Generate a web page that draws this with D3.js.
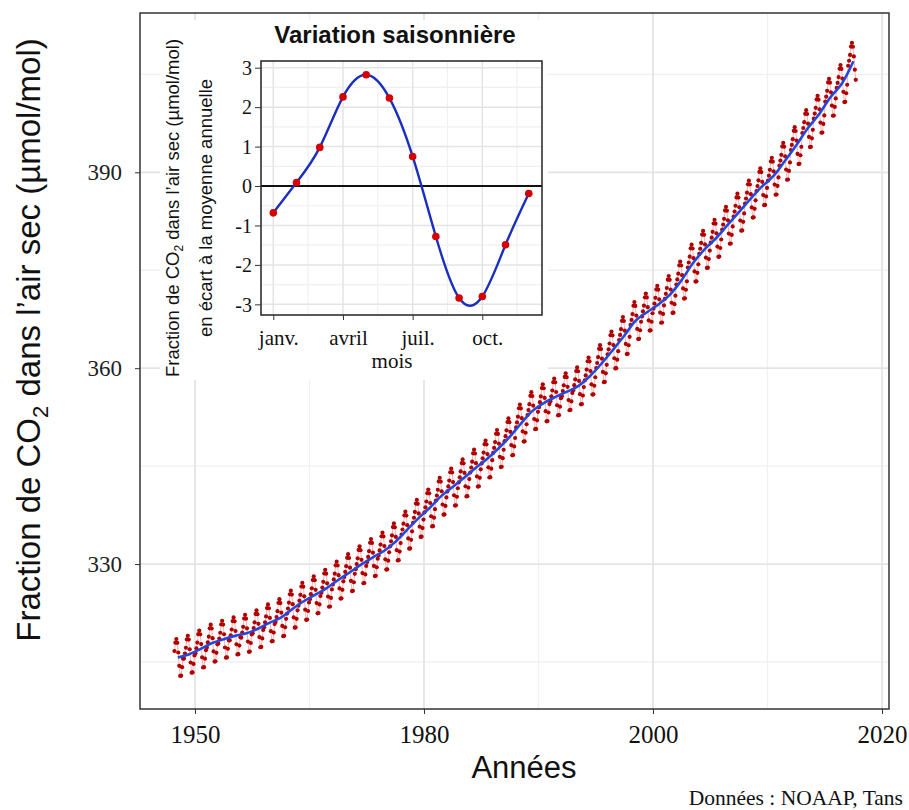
<!DOCTYPE html>
<html><head><meta charset="utf-8">
<script src="https://cdn.jsdelivr.net/npm/d3@7"></script>
<style>body{margin:0;background:#fff;} svg{display:block}</style>
</head><body>
<svg id="c" width="909" height="810"></svg>
<script>
// ---- Data ----
// Smoothed (trend) CO2 value per year, centred on mid-year
const trendYears = [1958,1959,1960,1961,1962,1963,1964,1965,1966,1967,
  1968,1969,1970,1971,1972,1973,1974,1975,1976,1977,
  1978,1979,1980,1981,1982,1983,1984,1985,1986,1987,
  1988,1989,1990,1991,1992,1993,1994,1995,1996,1997,
  1998,1999,2000,2001,2002,2003,2004,2005,2006,2007,
  2008,2009,2010,2011,2012,2013,2014,2015,2016,2017];
const trendValues = [315.7,316.2,317.0,317.9,318.5,319.0,319.4,320.1,321.0,321.8,
  323.1,324.3,325.3,326.3,327.55,328.7,329.9,331.0,332.0,333.4,
  335.2,337.0,338.6,340.4,341.8,343.2,344.7,346.1,347.7,349.5,
  351.6,353.5,354.7,355.6,356.4,357.3,358.8,360.7,362.8,365.0,
  367.3,368.6,369.8,371.3,373.5,376.1,378.2,379.9,381.9,383.9,
  385.9,387.8,389.4,391.7,394.1,396.7,398.9,401.5,403.6,407.0];
// Seasonal deviation from annual mean (inset), months 1..12
const seasonalMonths = [1,2,3,4,5,6,7,8,9,10,11,12];
const seasonalValues = [-0.68,0.09,0.98,2.26,2.82,2.23,0.75,-1.28,-2.84,-2.80,-1.49,-0.19];
// first and last monthly observation
const firstObs = {year:1958, month:3};
const lastObs = {year:2017, month:9};
// ticks
const xTickYears = [1960,1980,2000,2020];
const xTickLabels = ["1950","1980","2000","2020"];
const yTickValues = [330,360,390];
const insetYTicks = [-3,-2,-1,0,1,2,3];
const insetXTickMonths = [1,4,7,10];
const insetXTickLabels = ["janv.","avril","juil.","oct."];

// monthly points: each year's level + that month's seasonal offset
const monthly = [];
trendYears.forEach((yr,i)=>{
  seasonalMonths.forEach((m,j)=>{
    const k = yr*12+m, k0 = firstObs.year*12+firstObs.month, k1 = lastObs.year*12+lastObs.month;
    if(k<k0||k>k1) return;
    monthly.push({t: yr+(m-0.5)/12, v: trendValues[i]+seasonalValues[j]});
  });
});
const trend = trendYears.map((yr,i)=>({t:yr+0.5, v:trendValues[i]}));

const SERIF = "'Liberation Serif','Times New Roman',serif";
const SANS = "'Liberation Sans',Arial,sans-serif";
const svg = d3.select("#c");

// ---- main panel ----
const L=140,R=889,T=13,B=709;
const x = d3.scaleLinear().domain([1955.2,2020.61]).range([L,R]);
const y = d3.scaleLinear().domain([307.8,414.4]).range([B,T]);

const xMinor = d3.pairs(xTickYears).map(p=>(p[0]+p[1])/2);
const yMinor = [yTickValues[0]-15].concat(yTickValues.map(v=>v+15));
const g = svg.append("g");
g.selectAll(".xmin").data(xMinor).join("line")
 .attr("x1",d=>x(d)).attr("x2",d=>x(d)).attr("y1",T).attr("y2",B)
 .attr("stroke","#f0f0f0").attr("stroke-width",1.3);
g.selectAll(".ymin").data(yMinor).join("line")
 .attr("x1",L).attr("x2",R).attr("y1",d=>y(d)).attr("y2",d=>y(d))
 .attr("stroke","#f0f0f0").attr("stroke-width",1.3);
g.selectAll(".xmaj").data(xTickYears).join("line")
 .attr("x1",d=>x(d)).attr("x2",d=>x(d)).attr("y1",T).attr("y2",B)
 .attr("stroke","#e4e4e4").attr("stroke-width",1.8);
g.selectAll(".ymaj").data(yTickValues).join("line")
 .attr("x1",L).attr("x2",R).attr("y1",d=>y(d)).attr("y2",d=>y(d))
 .attr("stroke","#e4e4e4").attr("stroke-width",1.8);

// monthly connecting line + dots
g.append("path").datum(monthly)
 .attr("d",d3.line().x(d=>x(d.t)).y(d=>y(d.v)))
 .attr("fill","none").attr("stroke","#f5a8a8").attr("stroke-width",0.9);
g.selectAll(".pt").data(monthly).join("circle")
 .attr("cx",d=>x(d.t)).attr("cy",d=>y(d.v)).attr("r",2.1).attr("fill","#b00000");
// trend
g.append("path").datum(trend)
 .attr("d",d3.line().x(d=>x(d.t)).y(d=>y(d.v)).curve(d3.curveCatmullRom))
 .attr("fill","none").attr("stroke","#2448dc").attr("stroke-width",2.6);

// frame
svg.append("rect").attr("x",L).attr("y",T).attr("width",R-L).attr("height",B-T)
 .attr("fill","none").attr("stroke","#333").attr("stroke-width",1.5);

// axes
const xa = svg.append("g").attr("transform",`translate(0,${B})`)
 .call(d3.axisBottom(x).tickValues(xTickYears).tickFormat((d,i)=>xTickLabels[i]).tickSize(5));
xa.select(".domain").remove();
xa.selectAll("line").attr("stroke","#333");
xa.selectAll("text").attr("font-family",SERIF).attr("font-size",25).attr("fill","#111")
 .attr("y",34).attr("dy",0);
const ya = svg.append("g").attr("transform",`translate(${L},0)`)
 .call(d3.axisLeft(y).tickValues(yTickValues).tickSize(5));
ya.select(".domain").remove();
ya.selectAll("line").attr("stroke","#333");
ya.selectAll("text").attr("font-family",SERIF).attr("font-size",23).attr("fill","#222")
 .attr("x",-18).attr("dy","0.33em");

// axis titles
svg.append("text").attr("x",524).attr("y",778).attr("text-anchor","middle")
 .attr("font-family",SANS).attr("font-size",31).attr("fill","#111").text("Années");
const yt = svg.append("text").attr("transform","translate(40,340) rotate(-90)")
 .attr("text-anchor","middle").attr("font-family",SANS).attr("font-size",33).attr("fill","#111");
yt.append("tspan").text("Fraction de CO");
yt.append("tspan").attr("font-size",22).attr("dy",8).text("2");
yt.append("tspan").attr("dy",-8).text(" dans l’air sec (µmol/mol)");

svg.append("text").attr("x",903).attr("y",805).attr("text-anchor","end")
 .attr("font-family",SERIF).attr("font-size",21.5).attr("fill","#111").text("Données : NOAAP, Tans");

// ---- inset ----
svg.append("rect").attr("x",160).attr("y",20).attr("width",388).attr("height",360).attr("fill","#fff");
const iL=261,iR=542,iT=61,iB=315;
const ix = d3.scaleLinear().domain([0.47,12.57]).range([iL,iR]);
const iy = d3.scaleLinear().domain([-3.27,3.17]).range([iB,iT]);
const ig = svg.append("g");
const ixMinor = insetXTickMonths.map(m=>m+1.5);
const iyMinor = insetYTicks.slice(1).map(v=>v-0.5);
ig.selectAll(".a").data(ixMinor).join("line")
 .attr("x1",d=>ix(d)).attr("x2",d=>ix(d)).attr("y1",iT).attr("y2",iB)
 .attr("stroke","#f0f0f0").attr("stroke-width",1.2);
ig.selectAll(".b").data(iyMinor).join("line")
 .attr("x1",iL).attr("x2",iR).attr("y1",d=>iy(d)).attr("y2",d=>iy(d))
 .attr("stroke","#f0f0f0").attr("stroke-width",1.2);
ig.selectAll(".c").data(insetXTickMonths).join("line")
 .attr("x1",d=>ix(d)).attr("x2",d=>ix(d)).attr("y1",iT).attr("y2",iB)
 .attr("stroke","#e4e4e4").attr("stroke-width",1.5);
ig.selectAll(".d").data(insetYTicks).join("line")
 .attr("x1",iL).attr("x2",iR).attr("y1",d=>iy(d)).attr("y2",d=>iy(d))
 .attr("stroke","#e4e4e4").attr("stroke-width",1.5);
// zero line
ig.append("line").attr("x1",iL).attr("x2",iR).attr("y1",iy(0)).attr("y2",iy(0))
 .attr("stroke","#111").attr("stroke-width",2);
const seas = seasonalMonths.map((m,i)=>({m, v:seasonalValues[i]}));
ig.append("path").datum(seas)
 .attr("d",d3.line().x(d=>ix(d.m)).y(d=>iy(d.v)).curve(d3.curveNatural))
 .attr("fill","none").attr("stroke","#1a2fbf").attr("stroke-width",2.4);
ig.selectAll(".sp").data(seas).join("circle")
 .attr("cx",d=>ix(d.m)).attr("cy",d=>iy(d.v)).attr("r",3.8).attr("fill","#d40000");
ig.append("rect").attr("x",iL).attr("y",iT).attr("width",iR-iL).attr("height",iB-iT)
 .attr("fill","none").attr("stroke","#222").attr("stroke-width",1.5);

const ixa = svg.append("g").attr("transform",`translate(0,${iB})`)
 .call(d3.axisBottom(ix).tickValues(insetXTickMonths).tickFormat((d,i)=>insetXTickLabels[i]).tickSize(5));
ixa.select(".domain").remove();
ixa.selectAll("line").attr("stroke","#333");
ixa.selectAll("text").attr("font-family",SERIF).attr("font-size",21).attr("fill","#111")
 .attr("y",30).attr("dy",0).attr("dx",5);
const iya = svg.append("g").attr("transform",`translate(${iL},0)`)
 .call(d3.axisLeft(iy).tickValues(insetYTicks).tickFormat(d=>String(d)).tickSize(6));
iya.select(".domain").remove();
iya.selectAll("line").attr("stroke","#333");
iya.selectAll("text").attr("font-family",SERIF).attr("font-size",20).attr("fill","#111")
 .attr("x",-9).attr("dy","0.34em");

svg.append("text").attr("x",392).attr("y",368).attr("text-anchor","middle")
 .attr("font-family",SERIF).attr("font-size",21).attr("fill","#111").text("mois");
svg.append("text").attr("x",395).attr("y",43).attr("text-anchor","middle")
 .attr("font-family",SANS).attr("font-size",24).attr("font-weight","bold").attr("fill","#111")
 .text("Variation saisonnière");
const it1 = svg.append("text").attr("transform","translate(179,208) rotate(-90)")
 .attr("text-anchor","middle").attr("font-family",SANS).attr("font-size",18.5).attr("fill","#111");
it1.append("tspan").text("Fraction de CO");
it1.append("tspan").attr("font-size",12).attr("dy",4).text("2");
it1.append("tspan").attr("dy",-4).text(" dans l’air sec (µmol/mol)");
svg.append("text").attr("transform","translate(212,208) rotate(-90)")
 .attr("text-anchor","middle").attr("font-family",SANS).attr("font-size",18.5).attr("fill","#111")
 .text("en écart à la moyenne annuelle");
</script>
</body></html>
